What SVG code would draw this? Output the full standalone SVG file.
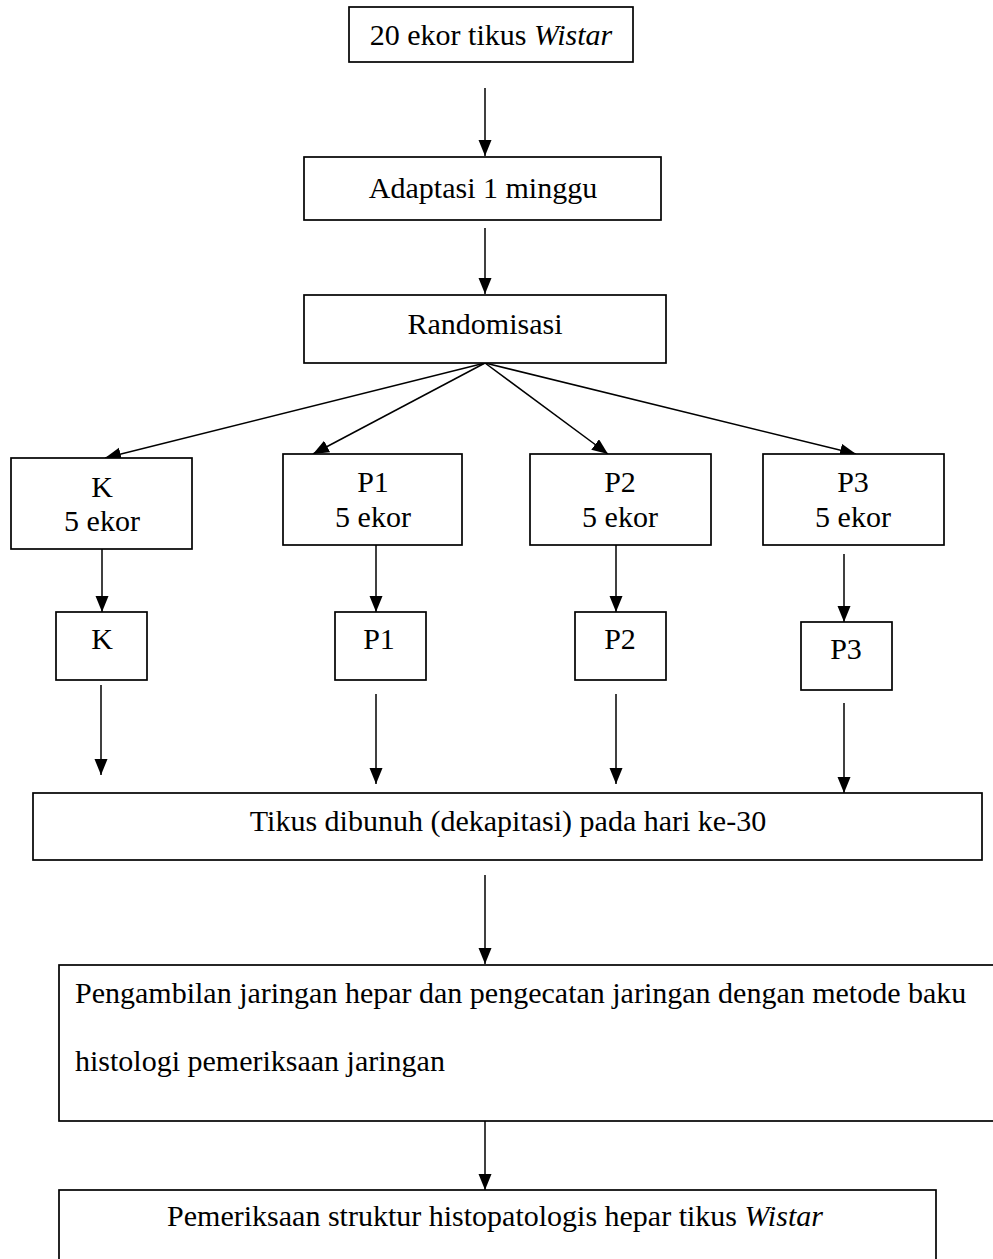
<svg xmlns="http://www.w3.org/2000/svg" width="993" height="1259" viewBox="0 0 993 1259">
<style>
.box{fill:#fff;stroke:#000;stroke-width:1.7}
.t{font-family:"Liberation Serif","Times New Roman",serif;font-size:30px;fill:#000}
.c{text-anchor:middle}
.con{stroke:#000;stroke-width:1.5;fill:none;marker-end:url(#ah)}
</style>
<defs>
<marker id="ah" markerUnits="userSpaceOnUse" markerWidth="18" markerHeight="14" refX="16" refY="6.5" orient="auto">
<path d="M0,0 L16,6.5 L0,13 z" fill="#000"/>
</marker>
</defs>
<rect width="993" height="1259" fill="#fff"/>
<g id="connectors">
<line class="con" x1="485" y1="88" x2="485" y2="156"/>
<line class="con" x1="485" y1="228" x2="485" y2="294"/>
<line class="con" x1="485" y1="363" x2="105" y2="458"/>
<line class="con" x1="485" y1="363" x2="313" y2="454"/>
<line class="con" x1="485" y1="363" x2="608" y2="454"/>
<line class="con" x1="485" y1="363" x2="856" y2="454"/>
<line class="con" x1="102" y1="549" x2="102" y2="612"/>
<line class="con" x1="376" y1="545" x2="376" y2="612"/>
<line class="con" x1="616" y1="545" x2="616" y2="612"/>
<line class="con" x1="844" y1="554" x2="844" y2="622"/>
<line class="con" x1="101" y1="685" x2="101" y2="775"/>
<line class="con" x1="376" y1="694" x2="376" y2="784"/>
<line class="con" x1="616" y1="694" x2="616" y2="784"/>
<line class="con" x1="844" y1="703" x2="844" y2="793"/>
<line class="con" x1="485" y1="875" x2="485" y2="964"/>
<line class="con" x1="485" y1="1121" x2="485" y2="1190"/>
</g>
<g id="n-start"><rect class="box" x="349" y="7" width="284" height="55"/><text class="t c" x="491" y="45">20 ekor tikus <tspan font-style="italic">Wistar</tspan></text></g>
<g id="n-adaptasi"><rect class="box" x="304" y="157" width="357" height="63"/><text class="t c" x="483" y="198">Adaptasi 1 minggu</text></g>
<g id="n-random"><rect class="box" x="304" y="295" width="362" height="68"/><text class="t c" x="485" y="334">Randomisasi</text></g>
<g id="n-k"><rect class="box" x="11" y="458" width="181" height="91"/><text class="t c" x="102" y="497">K</text><text class="t c" x="102" y="531">5 ekor</text></g>
<g id="n-p1"><rect class="box" x="283" y="454" width="179" height="91"/><text class="t c" x="373" y="492">P1</text><text class="t c" x="373" y="527">5 ekor</text></g>
<g id="n-p2"><rect class="box" x="530" y="454" width="181" height="91"/><text class="t c" x="620" y="492">P2</text><text class="t c" x="620" y="527">5 ekor</text></g>
<g id="n-p3"><rect class="box" x="763" y="454" width="181" height="91"/><text class="t c" x="853" y="492">P3</text><text class="t c" x="853" y="527">5 ekor</text></g>
<g id="n-k2"><rect class="box" x="56" y="612" width="91" height="68"/><text class="t c" x="102" y="649">K</text></g>
<g id="n-p1b"><rect class="box" x="335" y="612" width="91" height="68"/><text class="t c" x="379" y="649">P1</text></g>
<g id="n-p2b"><rect class="box" x="575" y="612" width="91" height="68"/><text class="t c" x="620" y="649">P2</text></g>
<g id="n-p3b"><rect class="box" x="801" y="622" width="91" height="68"/><text class="t c" x="846" y="659">P3</text></g>
<g id="n-tikus"><rect class="box" x="33" y="793" width="949" height="67"/><text class="t c" x="508" y="831">Tikus dibunuh (dekapitasi) pada hari ke-30</text></g>
<g id="n-pengambilan"><rect class="box" x="59" y="965" width="960" height="156"/><text class="t" x="75" y="1003">Pengambilan jaringan hepar dan pengecatan jaringan dengan metode baku</text><text class="t" x="75" y="1071">histologi pemeriksaan jaringan</text></g>
<g id="n-pemeriksaan"><rect class="box" x="59" y="1190" width="877" height="90"/><text class="t c" x="495" y="1226">Pemeriksaan struktur histopatologis hepar tikus <tspan font-style="italic">Wistar</tspan></text></g>
</svg>
